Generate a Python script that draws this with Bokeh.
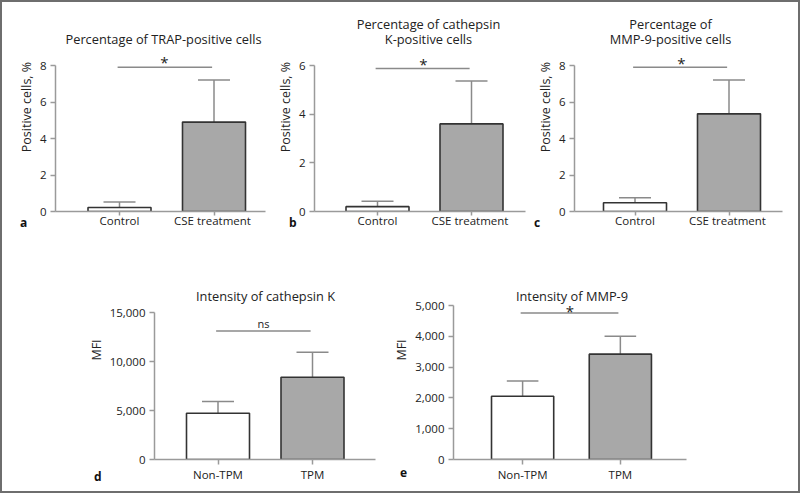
from bokeh.plotting import figure
from bokeh.layouts import row, column
from bokeh.models import FixedTicker, NumeralTickFormatter, Range1d, Label, Title
from bokeh.embed import file_html
from bokeh.resources import INLINE

# ---------------- data ----------------
cats_top = ["Control", "CSE  treatment"]
trap_mean = [0.22, 4.9]
trap_err = [0.30, 2.3]
cathk_pct_mean = [0.2, 3.6]
cathk_pct_err = [0.22, 1.76]
mmp9_pct_mean = [0.48, 5.35]
mmp9_pct_err = [0.27, 1.85]

cats_bottom = ["Non-TPM", "TPM"]
cathk_mfi_mean = [4720, 8400]
cathk_mfi_err = [1190, 2550]
mmp9_mfi_mean = [2055, 3420]
mmp9_mfi_err = [490, 585]

yticks_a = [0, 2, 4, 6, 8]
yticks_b = [0, 2, 4, 6]
yticks_c = [0, 2, 4, 6, 8]
yticks_d = [0, 5000, 10000, 15000]
yticks_e = [0, 1000, 2000, 3000, 4000, 5000]

sig_marks = ["*", "*", "*", "ns", "*"]
sig_levels = [7.9, 5.88, 7.9, 13100, 4760]

FONT = "Open Sans"
AXIS = "#9a9a9a"
TEXT = "#222222"
BAR_FILLS = ["#ffffff", "#a8a8a8"]


def make_panel(cats, means, errs, yticks, ylabel, fmt, titles, letter, sig_text,
               sig_y, g):
    # g: page-pixel layout geometry of the panel
    fx0, fy0, fx1, fy1 = g["fig"]
    fl, fr, ft, fb = g["frame"]          # ft = where the axis top (last tick) sits
    c0, c1 = g["centers"]
    ymax = yticks[-1]
    ppu = c1 - c0

    def px2x(px):
        return (px - c0) / ppu

    def py2y(py):
        return (fb - py) / (fb - ft) * ymax

    p = figure(width=fx1 - fx0, height=fy1 - fy0, title=None,
               min_border_left=fl - fx0, min_border_right=fx1 - fr,
               min_border_top=0, min_border_bottom=fy1 - fb,
               x_range=Range1d(px2x(fl), px2x(fr)),
               y_range=Range1d(0, py2y(fy0)),
               output_backend="svg", toolbar_location=None,
               background_fill_color="white", border_fill_color="white")
    p.outline_line_color = None
    p.xgrid.visible = False
    p.ygrid.visible = False

    xs = list(range(len(cats)))
    cap = 16 / ppu
    tops = [m + e for m, e in zip(means, errs)]
    p.segment(x0=xs, y0=means, x1=xs, y1=tops, line_color="#8a8a8a", line_width=1.5)
    p.segment(x0=[x - cap for x in xs], y0=tops, x1=[x + cap for x in xs], y1=tops,
              line_color="#8a8a8a", line_width=1.5)
    p.vbar(x=xs, top=means, bottom=0, width=63 / ppu, fill_color=BAR_FILLS,
           line_color="#333333", line_width=1.6)
    p.segment(x0=[xs[0] - 0.02], y0=[sig_y], x1=[xs[1] - 0.02], y1=[sig_y],
              line_color="#8a8a8a", line_width=1.5)

    # axes
    for ax in (p.xaxis[0], p.yaxis[0]):
        ax.axis_line_color = AXIS
        ax.axis_line_width = 1.5
        ax.major_tick_line_color = AXIS
        ax.major_tick_line_width = 1.5
        ax.major_tick_out = 5
        ax.major_tick_in = 0
        ax.minor_tick_out = 0
        ax.minor_tick_in = 0
        ax.major_label_text_font = FONT
        ax.major_label_text_font_size = "11.5px"
        ax.major_label_text_color = TEXT
    p.xaxis.ticker = FixedTicker(ticks=xs)
    p.xaxis.major_label_overrides = {i: c for i, c in enumerate(cats)}
    p.xaxis.major_tick_out = g["xtick"][0]
    p.xaxis.major_label_standoff = g["xtick"][1]
    p.yaxis.ticker = FixedTicker(ticks=yticks)
    p.yaxis.bounds = (0, ymax)
    if fmt:
        p.yaxis.formatter = NumeralTickFormatter(format=fmt)
    p.yaxis.major_label_standoff = 4
    p.yaxis.axis_label = ylabel
    p.yaxis.axis_label_text_font = FONT
    p.yaxis.axis_label_text_font_size = "12.5px"
    p.yaxis.axis_label_text_font_style = "normal"
    p.yaxis.axis_label_text_color = TEXT
    p.yaxis.axis_label_standoff = 2

    # titles (inside the extended frame)
    tx = g["title_x"]
    for text, ty in zip(titles, g["title_y"]):
        p.add_layout(Label(x=px2x(tx), y=py2y(ty), text=text, text_font=FONT,
                           text_font_size="12.8px", text_color=TEXT,
                           text_align="center", text_baseline="middle"))
    # panel letter: a title in the bottom panel, pulled up beside the tick labels
    lx, standoff = g["letter"]
    p.add_layout(Title(text=letter, align="left", offset=lx - 3.5 - fl,
                       vertical_align="top", standoff=standoff,
                       text_font=FONT, text_font_size="12px",
                       text_font_style="bold", text_color="#111111"), "below")
    sx, sy = g["sig"]
    if sig_text == "*":
        p.add_layout(Label(x=px2x(sx), y=py2y(sy + 4), text=sig_text, text_font=FONT,
                           text_font_size="15px", text_color=TEXT,
                           text_align="center", text_baseline="middle"))
    else:
        p.add_layout(Label(x=px2x(sx), y=py2y(sy), text=sig_text, text_font=FONT,
                           text_font_size="11px", text_color=TEXT,
                           text_align="center", text_baseline="middle"))
    return p


geo_a = dict(fig=(2, 2, 272, 240), frame=(55, 265, 65, 211), centers=(119, 213.5),
             title_x=163, title_y=[38], letter=(23, -34), sig=(164, 57), xtick=(4, -3))
geo_b = dict(fig=(272, 2, 532, 240), frame=(314, 525, 65, 211), centers=(377, 471),
             title_x=428, title_y=[23, 38], letter=(292, -34), sig=(423, 59), xtick=(4, -3))
geo_c = dict(fig=(532, 2, 798, 240), frame=(574, 782, 65, 211), centers=(634.5, 728.5),
             title_x=670, title_y=[23, 38], letter=(537, -34), sig=(681, 58), xtick=(4, -3))
geo_d = dict(fig=(2, 240, 390, 491), frame=(154, 375, 312, 459), centers=(217.5, 312),
             title_x=265, title_y=[295], letter=(97, -34), sig=(263, 323), xtick=(5, 2))
geo_e = dict(fig=(390, 240, 798, 491), frame=(450, 686, 305, 459), centers=(520, 619),
             title_x=570, title_y=[295], letter=(400, -34), sig=(568, 306), xtick=(5, 2))

pa = make_panel(cats_top, trap_mean, trap_err, yticks_a, "Positive cells, %", None,
                ["Percentage of TRAP-positive cells"], "a", sig_marks[0], sig_levels[0], geo_a)
pb = make_panel(cats_top, cathk_pct_mean, cathk_pct_err, yticks_b, "Positive cells, %", None,
                ["Percentage of cathepsin", "K-positive cells"], "b", sig_marks[1], sig_levels[1], geo_b)
pc = make_panel(cats_top, mmp9_pct_mean, mmp9_pct_err, yticks_c, "Positive cells, %", None,
                ["Percentage of", "MMP-9-positive cells"], "c", sig_marks[2], sig_levels[2], geo_c)
pd = make_panel(cats_bottom, cathk_mfi_mean, cathk_mfi_err, yticks_d, "MFI", "0,0",
                ["Intensity of cathepsin K"], "d", sig_marks[3], sig_levels[3], geo_d)
pe = make_panel(cats_bottom, mmp9_mfi_mean, mmp9_mfi_err, yticks_e, "MFI", "0,0",
                ["Intensity of MMP-9"], "e", sig_marks[4], sig_levels[4], geo_e)

layout = column(row(pa, pb, pc), row(pd, pe),
                styles={"border": "2px solid #6e6e6e"})
open("out.html", "w").write(file_html(layout, INLINE))
